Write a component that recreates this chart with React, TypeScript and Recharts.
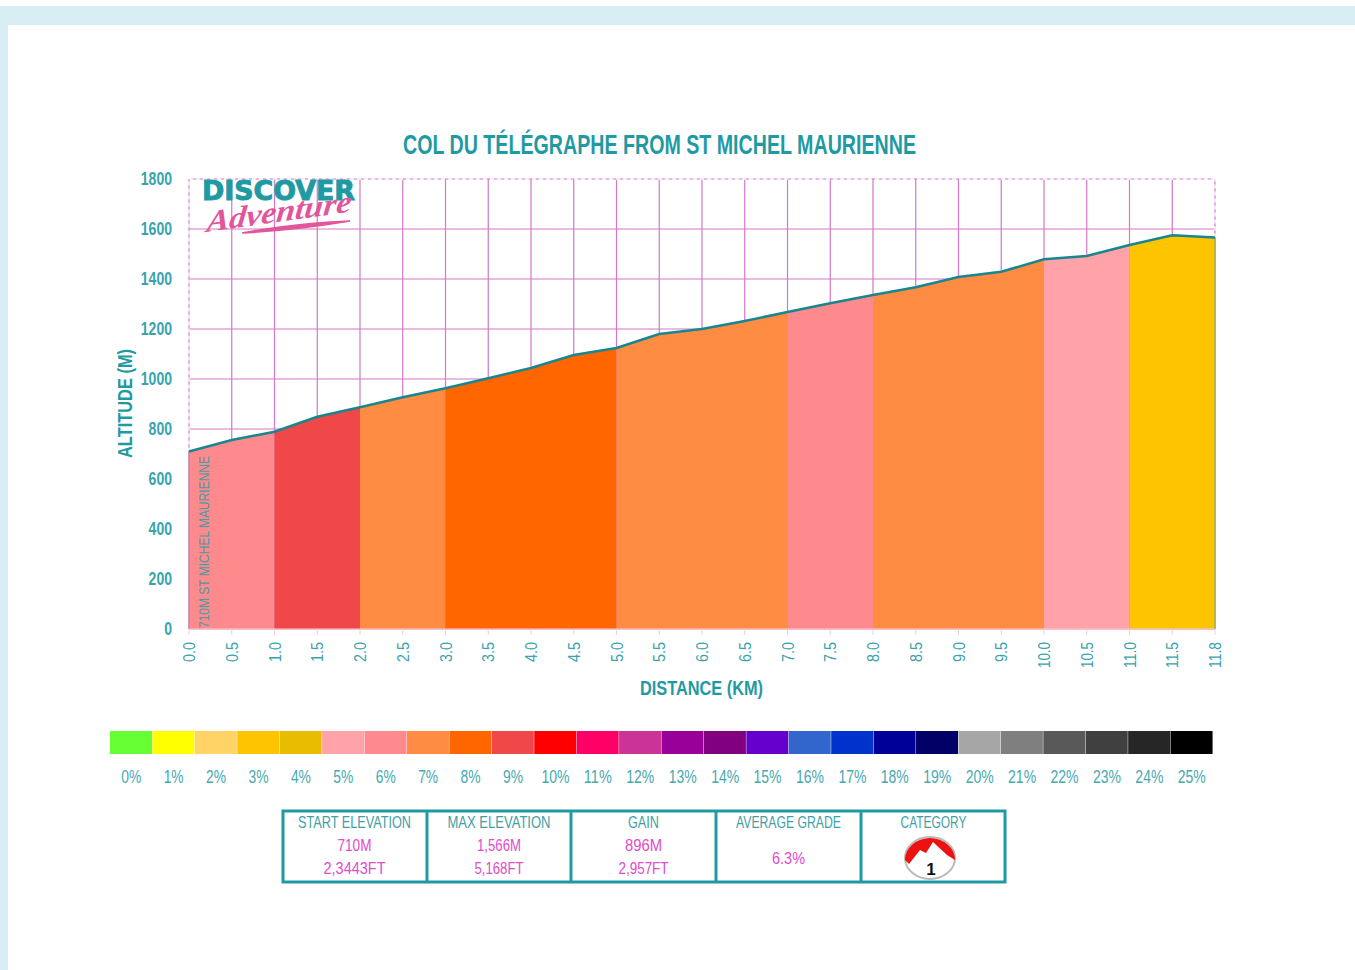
import React from 'react';
import {
  ComposedChart,
  BarChart,
  Bar,
  Cell,
  Area,
  Line,
  XAxis,
  YAxis,
  CartesianGrid,
  ReferenceLine,
} from 'recharts';

const TEAL = '#1f9aa3';
const TEAL_DARK = '#17868e';
const PINK = '#e24bc9';
const GRID = '#d277ca';
const NARROW = '"Liberation Sans", sans-serif';

const distanceLabels = [
  '0.0', '0.5', '1.0', '1.5', '2.0', '2.5', '3.0', '3.5', '4.0', '4.5', '5.0', '5.5', '6.0',
  '6.5', '7.0', '7.5', '8.0', '8.5', '9.0', '9.5', '10.0', '10.5', '11.0', '11.5', '11.8',
];
const altitudes = [
  710, 756, 789, 849, 887, 927, 963, 1003, 1044, 1096, 1124, 1180, 1200,
  1232, 1268, 1303, 1336, 1367, 1408, 1429, 1479, 1492, 1536, 1575, 1566,
];
const altitudeTicks = [0, 200, 400, 600, 800, 1000, 1200, 1400, 1600, 1800];

// grade per stretch of the climb, the stretch ends at the km in segmentEnds
const segmentEnds = [1, 2, 3, 5, 7, 8, 10, 11, 11.8];
const segmentGrades = [6, 9, 7, 8, 7, 6, 7, 5, 3];

const gradeLabels = [
  '0%', '1%', '2%', '3%', '4%', '5%', '6%', '7%', '8%', '9%', '10%', '11%', '12%',
  '13%', '14%', '15%', '16%', '17%', '18%', '19%', '20%', '21%', '22%', '23%', '24%', '25%',
];
const gradeColors = [
  '#66ff33', '#ffff00', '#ffd366', '#ffc400', '#e8bc00', '#ffa3a8', '#ff8a8e', '#ff8c42',
  '#ff6600', '#f04848', '#ff0000', '#ff0066', '#cc3399', '#990099', '#800080', '#6600cc',
  '#3366cc', '#0033cc', '#000099', '#000066', '#a6a6a6', '#7f7f7f', '#595959', '#404040',
  '#262626', '#000000',
];

const statHeaders = ['START ELEVATION', 'MAX ELEVATION', 'GAIN', 'AVERAGE GRADE', 'CATEGORY'];
const statMetres = ['710M', '1,566M', '896M'];
const statFeet = ['2,3443FT', '5,168FT', '2,957FT'];
const averageGrade = '6.3%';

const profileRows = distanceLabels.map((km, i) => {
  const row: Record<string, string | number | null> = { km, altitude: altitudes[i] };
  segmentEnds.forEach((end, s) => {
    const start = s === 0 ? 0 : segmentEnds[s - 1];
    const d = parseFloat(km);
    row[`seg${s}`] = d >= start && d <= end ? altitudes[i] : null;
  });
  return row;
});

const legendRows = gradeLabels.map((grade) => ({ grade, span: 1 }));

const firstKm = distanceLabels[0];
const lastKm = distanceLabels[distanceLabels.length - 1];
const firstAltitude = altitudes[0];
const lastAltitude = altitudes[altitudes.length - 1];

const AltitudeTick = ({ x, y, payload }: any) => (
  <text
    x={x - 9}
    y={y + 6}
    textAnchor="end"
    textLength={String(payload.value).length * 7.8}
    lengthAdjust="spacingAndGlyphs"
    fontFamily={NARROW}
    fontSize={18}
    fontWeight={700}
    fill="#3aa3ab"
  >
    {payload.value}
  </text>
);

const DistanceTick = ({ x, y, payload }: any) => (
  <text
    transform={`translate(${x + 6},${y + 5}) rotate(-90)`}
    textAnchor="end"
    textLength={payload.value.length > 3 ? 26 : 20}
    lengthAdjust="spacingAndGlyphs"
    fontFamily={NARROW}
    fontSize={17}
    fill="#3aa3ab"
  >
    {payload.value}
  </text>
);

const GradeTick = ({ x, y, payload }: any) => (
  <text
    x={x}
    y={y + 21}
    textAnchor="middle"
    textLength={payload.value.length > 2 ? 28 : 20}
    lengthAdjust="spacingAndGlyphs"
    fontFamily={NARROW}
    fontSize={18}
    fill="#46a9b0"
  >
    {payload.value}
  </text>
);

// condensed lettering, squeezed to a known run length
const Caption = ({ x, y, width, size, fill = TEAL, bold = false, rotate = false, children }: any) => (
  <text
    x={rotate ? undefined : x}
    y={rotate ? undefined : y}
    transform={rotate ? `translate(${x},${y}) rotate(-90)` : undefined}
    textAnchor={rotate ? 'start' : 'middle'}
    textLength={width}
    lengthAdjust="spacingAndGlyphs"
    fontFamily={NARROW}
    fontSize={size}
    fontWeight={bold ? 700 : 400}
    fill={fill}
  >
    {children}
  </text>
);

const Logo = () => (
  <g>
    <text
      x={202}
      y={200}
      textLength={153}
      lengthAdjust="spacingAndGlyphs"
      fontFamily="DejaVu Sans"
      fontWeight={700}
      fontSize={27}
      fill={TEAL}
      stroke={TEAL}
      strokeWidth={1}
    >
      DISCOVER
    </text>
    <text
      transform="translate(206,232) rotate(-8) skewX(-14)"
      textLength={146}
      lengthAdjust="spacingAndGlyphs"
      fontFamily="Liberation Serif"
      fontStyle="italic"
      fontWeight={700}
      fontSize={30}
      fill="#e3559a"
    >
      Adventure
    </text>
    <path d="M242 233 C280 226 320 222 350 221 C320 226 280 231 242 233 Z" fill="#e3559a" stroke="#e3559a" strokeWidth={1.5} />
  </g>
);

const StatsTable = () => {
  const edges = [282, 427, 571, 716, 861, 1006];
  return (
    <g>
      <rect x={283} y={811} width={722} height={71} fill="#fff" stroke={TEAL} strokeWidth={3} />
      {edges.slice(1, -1).map((x) => (
        <line key={x} x1={x} x2={x} y1={811} y2={882} stroke={TEAL} strokeWidth={3} />
      ))}
      {statHeaders.map((h, i) => (
        <Caption key={h} x={(edges[i] + edges[i + 1]) / 2} y={828} size={17} fill="#3f9fa6" width={[113, 103, 31, 105, 66][i]}>
          {h}
        </Caption>
      ))}
      {statMetres.map((m, i) => (
        <Caption key={m} x={(edges[i] + edges[i + 1]) / 2} y={851} size={17} fill={PINK} width={[34, 44, 37][i]}>
          {m}
        </Caption>
      ))}
      {statFeet.map((f, i) => (
        <Caption key={f} x={(edges[i] + edges[i + 1]) / 2} y={874} size={17} fill={PINK} width={[62, 49, 50][i]}>
          {f}
        </Caption>
      ))}
      <Caption x={788.5} y={864} size={17} fill={PINK} width={33}>
        {averageGrade}
      </Caption>
      {/* category badge */}
      <ellipse cx={930} cy={858} rx={25} ry={21} fill="#fff" stroke="#b9b9b9" strokeWidth={2} />
      <path d="M905 860 A25 22 0 0 1 955 860 L947 855 L933 842 L926 853 L920 850 L909 864 Z" fill="#ee1111" />
      <text x={931} y={875} textAnchor="middle" fontFamily="Liberation Sans" fontWeight={700} fontSize={17} fill="#111">
        1
      </text>
    </g>
  );
};

export default function App() {
  return (
    <div style={{ position: 'absolute', left: 0, top: 0, width: 1355, height: 970, background: '#fff', overflow: 'hidden' }}>
      <div style={{ position: 'absolute', left: 0, top: 6, width: 1355, height: 19, background: '#d9edf4' }} />
      <div style={{ position: 'absolute', left: 0, top: 6, width: 8, height: 964, background: '#d9edf4' }} />

      <div style={{ position: 'absolute', left: 0, top: 0 }}>
        <ComposedChart
          width={1355}
          height={720}
          data={profileRows}
          margin={{ top: 179, right: 140, bottom: 31, left: 112 }}
        >
          <CartesianGrid stroke={GRID} strokeWidth={1.2} />
          <XAxis
            dataKey="km"
            type="category"
            scale="point"
            interval={0}
            height={60}
            tick={<DistanceTick />}
            tickLine={{ stroke: '#f0d0d0' }}
            axisLine={{ stroke: '#f6caca' }}
          />
          <YAxis
            type="number"
            domain={[0, 1800]}
            ticks={altitudeTicks}
            width={77}
            tick={<AltitudeTick />}
            tickLine={false}
            axisLine={false}
          />
          {segmentGrades.map((grade, s) => (
            <Area
              key={s}
              dataKey={`seg${s}`}
              type="linear"
              stroke="none"
              fill={gradeColors[grade]}
              fillOpacity={1}
              dot={false}
              activeDot={false}
              isAnimationActive={false}
            />
          ))}
          {/* the frame of the plot is dashed above the profile */}
          <ReferenceLine y={1800} stroke="#fff" strokeWidth={1.4} strokeDasharray="4 3" />
          <ReferenceLine
            segment={[{ x: firstKm, y: firstAltitude }, { x: firstKm, y: 1800 }]}
            stroke="#fff"
            strokeWidth={1.4}
            strokeDasharray="4 3"
          />
          <ReferenceLine
            segment={[{ x: lastKm, y: lastAltitude }, { x: lastKm, y: 1800 }]}
            stroke="#fff"
            strokeWidth={1.4}
            strokeDasharray="4 3"
          />
          <ReferenceLine segment={[{ x: firstKm, y: 0 }, { x: firstKm, y: firstAltitude }]} stroke="#b58a98" />
          <ReferenceLine segment={[{ x: lastKm, y: 0 }, { x: lastKm, y: lastAltitude }]} stroke="#6fa58c" />
          <Line
            dataKey="altitude"
            type="linear"
            stroke={TEAL_DARK}
            strokeWidth={2.5}
            dot={false}
            activeDot={false}
            isAnimationActive={false}
          />
        </ComposedChart>
      </div>

      <div style={{ position: 'absolute', left: 0, top: 720 }}>
        <BarChart
          width={1355}
          height={70}
          data={legendRows}
          barCategoryGap={0}
          margin={{ top: 11, right: 142, bottom: 0, left: 110 }}
        >
          <XAxis dataKey="grade" interval={0} height={36} tick={<GradeTick />} tickLine={false} axisLine={false} />
          <YAxis hide domain={[0, 1]} />
          <Bar dataKey="span" isAnimationActive={false}>
            {legendRows.map((r, i) => (
              <Cell key={r.grade} fill={gradeColors[i]} />
            ))}
          </Bar>
        </BarChart>
      </div>

      <svg width={1355} height={970} style={{ position: 'absolute', left: 0, top: 0, pointerEvents: 'none' }}>
        <Caption x={659.5} y={154} width={513} size={28} bold fill={TEAL}>
          COL DU TÉLÉGRAPHE FROM ST MICHEL MAURIENNE
        </Caption>
        <Caption x={701.5} y={695} width={123} size={21} bold fill={TEAL}>
          DISTANCE (KM)
        </Caption>
        <Caption x={132} y={458} width={109} size={21} bold rotate fill={TEAL}>
          ALTITUDE (M)
        </Caption>
        <Caption x={209} y={628} width={172} size={14} rotate fill="#4a9aa0">
          710M ST MICHEL MAURIENNE
        </Caption>
        <Logo />
        <StatsTable />
      </svg>
    </div>
  );
}
